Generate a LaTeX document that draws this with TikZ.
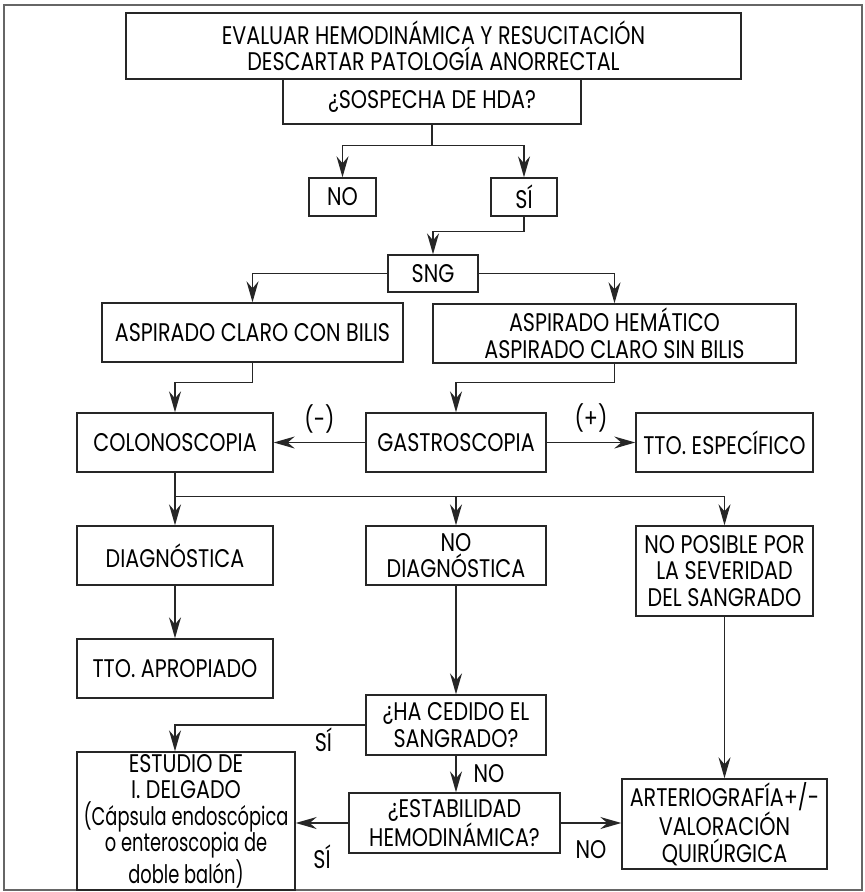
\documentclass[tikz,border=0pt]{standalone}
\usepackage{fontspec}
\setmainfont{Poppins}[FakeStretch=0.81]
\newfontfamily\narrowfont{Poppins}[FakeStretch=0.70]
\usetikzlibrary{arrows.meta}

\begin{document}
\begin{tikzpicture}[x=1pt,y=-1pt,line width=1.4pt,color=black!85,
  box/.style={draw,align=center,inner sep=0pt,text=black,font=\fontsize{25.5}{26.5}\selectfont},
  lbl/.style={text=black,font=\fontsize{25.5}{26.5}\selectfont},
  flow/.style={-{Stealth[length=21pt,width=12pt,inset=7pt]}}]
\useasboundingbox (0,0) rectangle (865,892);
\draw[black!60,line width=1.6pt] (4,5) rectangle (862,890);
\node[box,minimum width=615,minimum height=66] (eval) at (433.5,46) {EVALUAR HEMODINÁMICA Y RESUCITACIÓN\\DESCARTAR PATOLOGÍA ANORRECTAL};
\node[box,minimum width=298,minimum height=45] (hda) at (432,101.5) {¿SOSPECHA DE HDA?};
\node[box,minimum width=67,minimum height=38] (no) at (342.5,197) {NO};
\node[box,minimum width=66,minimum height=38] (si) at (524,197) {SÍ};
\node[box,minimum width=90,minimum height=37] (sng) at (433,273.5) {SNG};
\node[box,minimum width=301,minimum height=59] (bilis) at (252.5,332.5) {ASPIRADO CLARO CON BILIS};
\node[box,minimum width=363,minimum height=59] (hemat) at (614.5,333.5) {ASPIRADO HEMÁTICO\\ASPIRADO CLARO SIN BILIS};
\node[box,minimum width=196,minimum height=59] (colono) at (175,442.5) {COLONOSCOPIA};
\node[box,minimum width=180,minimum height=59] (gastro) at (456,442.5) {GASTROSCOPIA};
\node[box,minimum width=177,minimum height=59] (ttoesp) at (724.5,442.5) {TTO. ESPECÍFICO};
\node[box,minimum width=196,minimum height=59] (diag) at (175,555.5) {DIAGNÓSTICA};
\node[box,minimum width=180,minimum height=59] (nodiag) at (456,555.5) {NO\\DIAGNÓSTICA};
\node[box,minimum width=177,minimum height=90] (noposible) at (724.5,571) {NO POSIBLE POR\\LA SEVERIDAD\\DEL SANGRADO};
\node[box,minimum width=196,minimum height=59] (ttoapr) at (175,668.5) {TTO. APROPIADO};
\node[box,minimum width=180,minimum height=60] (cedido) at (456,725) {¿HA CEDIDO EL\\SANGRADO?};
\node[box,minimum width=218,minimum height=138] (estudio) at (186,821) {ESTUDIO DE\\I. DELGADO\\{\narrowfont(Cápsula endoscópica}\\{\narrowfont o enteroscopia de}\\{\narrowfont doble balón)}};
\node[box,minimum width=211,minimum height=60] (estab) at (454.5,823) {¿ESTABILIDAD\\HEMODINÁMICA?};
\node[box,minimum width=205,minimum height=90] (arterio) at (724.5,824) {ARTERIOGRAFÍA+/-\\VALORACIÓN\\QUIRÚRGICA};
\draw[flow] (hda.south) -- ++(0,21) coordinate (hdaj) -| (no.north);
\draw[flow] (hdaj) -| (si.north);
\draw[flow] (si.south) -- ++(0,15) -| (sng.north);
\draw[flow] (sng.west) -| (bilis.north);
\draw[flow] (sng.east) -| (hemat.north);
\draw[flow] (bilis.south) -- ++(0,20) -| (colono.north);
\draw[flow] (hemat.south) -- ++(0,19) -| (gastro.north);
\draw[flow] (gastro.west) -- (colono.east) node[lbl,midway,yshift=24pt] {(-)};
\draw[flow] (gastro.east) -- (ttoesp.west) node[lbl,midway,yshift=25pt] {(+)};
\draw[flow] (colono.south) -- ++(0,24) coordinate (colj) -| (diag.north);
\draw[flow] (colj) -| (nodiag.north);
\draw[flow] (colj) -| (noposible.north);
\draw[flow] (diag) -- (ttoapr);
\draw[flow] (nodiag) -- (cedido);
\draw[flow] (noposible) -- (arterio);
\draw[flow] (cedido.west) -| (ttoapr.south |- estudio.north) node[lbl,pos=0.11,yshift=-15pt] {SÍ};
\draw[flow] (cedido.south) -- (cedido.south |- estab.north) node[lbl,midway,xshift=33pt] {NO};
\draw[flow] (estab.west) -- (estab.west -| estudio.east) node[lbl,midway,yshift=-34pt] {SÍ};
\draw[flow] (estab.east) -- (estab.east -| arterio.west) node[lbl,midway,yshift=-27pt] {NO};
\end{tikzpicture}
\end{document}
